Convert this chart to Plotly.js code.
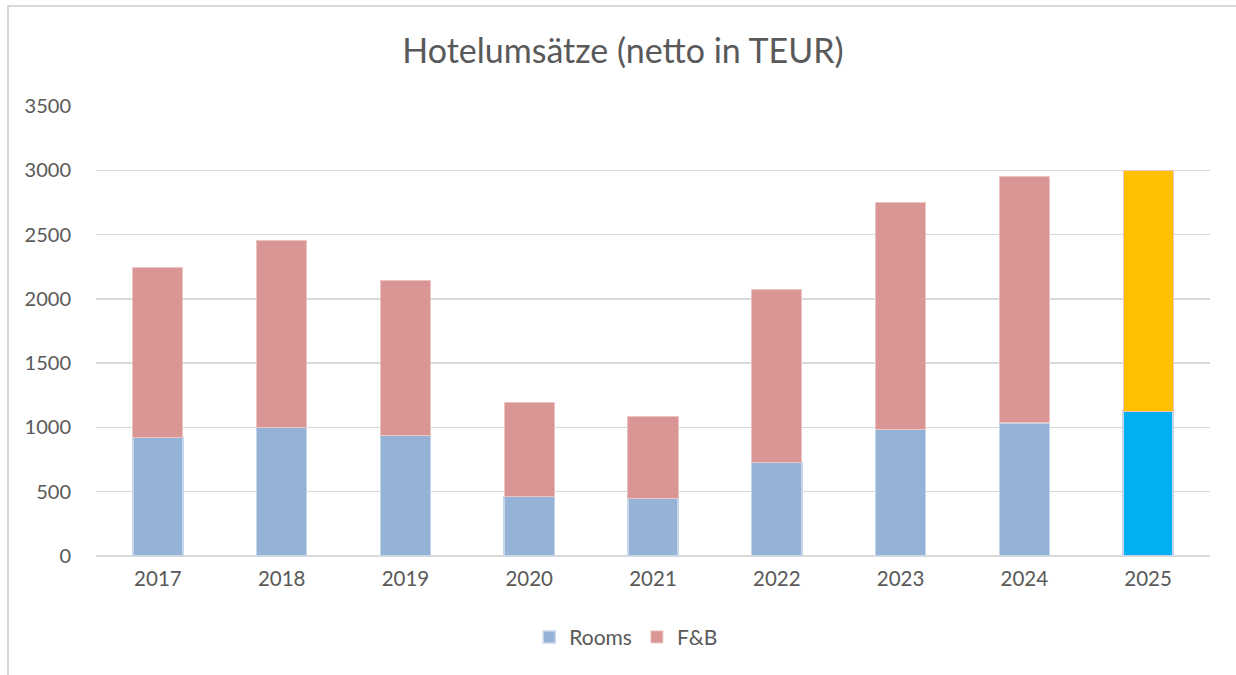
<!DOCTYPE html>
<html>
<head>
<meta charset="utf-8">
<script src="https://cdn.plot.ly/plotly-3.0.1.min.js"></script>
<style>
  html, body { margin: 0; padding: 0; background: #ffffff; }
  #frame { position: absolute; left: 7px; top: 5px; width: 1229px; height: 670px;
           border-left: 2px solid #d9d9d9; border-top: 2px solid #d9d9d9; box-sizing: border-box; }
  #chart { position: absolute; left: 0; top: 0; width: 1236px; height: 675px; }
</style>
</head>
<body>
<div id="frame"></div>
<div id="chart"></div>
<script>
const years = ['2017', '2018', '2019', '2020', '2021', '2022', '2023', '2024', '2025'];
const rooms = [922, 1000, 938, 461, 451, 728, 987, 1036, 1127];
const totals = [2243, 2453, 2145, 1194, 1083, 2070, 2752, 2948, 3000];
const fb = totals.map((t, i) => t - rooms[i]);

const roomsColors = ['#95B3D7', '#95B3D7', '#95B3D7', '#95B3D7', '#95B3D7', '#95B3D7', '#95B3D7', '#95B3D7', '#00B0F0'];
const fbColors = ['#D99694', '#D99694', '#D99694', '#D99694', '#D99694', '#D99694', '#D99694', '#D99694', '#FFC000'];

const font = '"Lato", "Open Sans", sans-serif';

const data = [
  {
    type: 'bar', name: 'Rooms', x: years, y: rooms,
    marker: { color: roomsColors, line: { color: '#C5D6EA', width: 1.5 } },
    hoverinfo: 'x+y+name'
  },
  {
    type: 'bar', name: 'F&B', x: years, y: fb,
    marker: { color: fbColors, line: { color: '#EBC4C3', width: 1 } },
    hoverinfo: 'x+y+name'
  }
];

const layout = {
  width: 1236, height: 675,
  barmode: 'stack',
  bargap: 0.595,
  paper_bgcolor: 'rgba(0,0,0,0)',
  plot_bgcolor: 'rgba(0,0,0,0)',
  margin: { l: 96, r: 26, t: 106, b: 119 },
  title: {
    text: 'Hotelumsätze (netto in TEUR)',
    font: { family: font, size: 34, color: '#595959' },
    x: 0.473, xanchor: 'center', xref: 'paper',
    y: 0.925, yanchor: 'middle', yref: 'container'
  },
  xaxis: {
    type: 'category',
    showgrid: false, zeroline: false,
    showline: false,
    ticks: '',
    tickfont: { family: font, size: 20.5, color: '#595959' },
    ticklabelstandoff: 8
  },
  yaxis: {
    range: [0, 3500],
    dtick: 500, tick0: 0,
    showgrid: true, gridcolor: '#d9d9d9', gridwidth: 1.3,
    zeroline: true, zerolinecolor: '#d9d9d9', zerolinewidth: 1.3,
    ticks: '',
    tickfont: { family: font, size: 20, color: '#595959' },
    ticklabelstandoff: 24
  },
  legend: {
    orientation: 'h',
    x: 0.476, xanchor: 'center',
    y: -0.135, yanchor: 'top',
    font: { family: font, size: 21, color: '#595959' },
    traceorder: 'normal',
    itemwidth: 30
  },
  showlegend: true
};

Plotly.newPlot('chart', data, layout, { displayModeBar: false, staticPlot: true });
</script>
</body>
</html>
